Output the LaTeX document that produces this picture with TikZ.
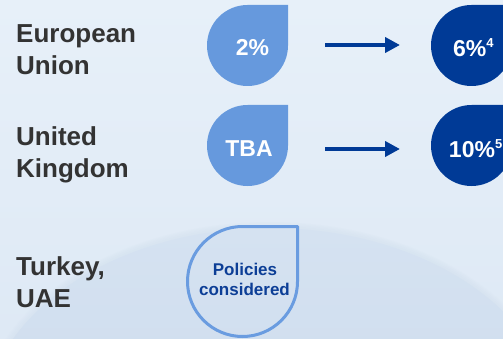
\documentclass[tikz,border=0pt]{standalone}
\usepackage{fontspec}
\setmainfont{Liberation Sans}
\usetikzlibrary{arrows.meta}
\definecolor{lblue}{RGB}{102,153,221}
\definecolor{oblue}{RGB}{106,156,224}
\definecolor{dblue}{RGB}{0,58,150}
\definecolor{ptxt}{RGB}{12,62,150}
\definecolor{txtgray}{RGB}{51,51,51}
\definecolor{bgtop}{RGB}{231,240,249}
\definecolor{bgbot}{RGB}{222,233,245}
\definecolor{hilledge}{RGB}{214,227,241}
\definecolor{hilltop}{RGB}{213,226,241}
\definecolor{hillbot}{RGB}{200,216,235}
\newcommand{\supr}[1]{\raisebox{9pt}{\fontsize{13}{13}\selectfont\bfseries #1}}
\tikzset{
  lbl/.style={anchor=base west, inner sep=0pt, text=txtgray,
    font=\fontsize{26}{32}\selectfont\bfseries},
  valtxt/.style={anchor=base, inner sep=0pt, text=white,
    font=\fontsize{23}{28}\selectfont\bfseries},
  poltxt/.style={anchor=base, inner sep=0pt, text=ptxt,
    font=\fontsize{17}{20}\selectfont\bfseries},
  arr/.style={draw=dblue, line width=4pt, -{Triangle[length=15pt,width=15pt]}},
  lightdrop/.style={fill=lblue},
  darkdrop/.style={fill=dblue},
  outdrop/.style={draw=oblue, line width=3pt, line join=round}
}
\begin{document}
\begin{tikzpicture}[x=1pt,y=1pt]
\useasboundingbox (0,0) rectangle (503,338);
% background
\fill[top color=bgtop, bottom color=bgbot] (0,0) rectangle (503,338);
\begin{scope}
\clip (0,0) rectangle (503,338);
\foreach \d in {6,4.5,3,1.5}{
  \fill[hilledge, fill opacity=0.22]
    (270,-90) ellipse [x radius={287pt+\d pt}, y radius={200pt+\d pt}];
}
\shade[top color=hilltop, bottom color=hillbot]
    (270,-90) ellipse [x radius=287pt, y radius=200pt];
\end{scope}
% left labels
\node[lbl] (eu1) at (16,295) {European};
\node[lbl] (eu2) at (16,263) {Union};
\node[lbl] (uk1) at (16,193) {United};
\node[lbl] (uk2) at (16,161) {Kingdom};
\node[lbl] (tr1) at (16,63) {Turkey,};
\node[lbl] (tr2) at (16,31) {UAE};
% drops
\fill[lightdrop] (247.5,333) -- (288,333) -- (288,292.5)
  arc[start angle=0, end angle=-270, radius=40.5pt] -- cycle;
\fill[darkdrop] (471.5,333) -- (512,333) -- (512,292.5)
  arc[start angle=0, end angle=-270, radius=40.5pt] -- cycle;
\fill[lightdrop] (247.5,233) -- (288,233) -- (288,192.5)
  arc[start angle=0, end angle=-270, radius=40.5pt] -- cycle;
\fill[darkdrop] (471.5,233) -- (512,233) -- (512,192.5)
  arc[start angle=0, end angle=-270, radius=40.5pt] -- cycle;
\draw[outdrop] (242.5,111.5) -- (297.5,111.5) -- (297.5,56.5)
  arc[start angle=0, end angle=-270, radius=55pt] -- cycle;
% values
\node[valtxt] (eunow) at (252.5,282) {2\%};
\node[valtxt] (eufut) at (473.3,281.3) {6\%\supr{4}};
\node[valtxt] (uknow) at (249,181.3) {TBA};
\node[valtxt] (ukfut) at (475.6,180.5) {10\%\supr{5}};
\node[poltxt] (pol1) at (245,63) {Policies};
\node[poltxt] (pol2) at (244.5,43) {considered};
% arrows
\coordinate (a1s) at (325,293);
\coordinate (a1e) at (400,293);
\coordinate (a2s) at (325,189);
\coordinate (a2e) at (400,189);
\draw[arr] (a1s) -- (a1e);
\draw[arr] (a2s) -- (a2e);
\end{tikzpicture}
\end{document}
